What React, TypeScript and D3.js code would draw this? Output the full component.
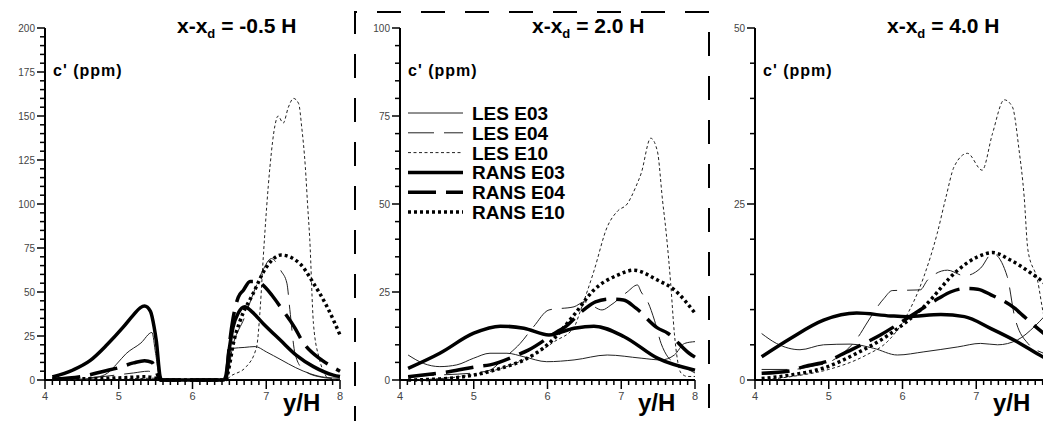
import React from 'react';
import * as d3 from 'd3';

// [y/H, c' (ppm)], one array per series and panel
const les03_a = [[4.1,0],[4.5,0.5],[4.7,1.5],[4.85,4],[4.97,9],[5.1,15],[5.3,21],[5.45,27],[5.5,15],[5.56,0],[6.45,0],[6.5,10],[6.55,18],[6.7,18.5],[6.85,19],[7.0,16],[7.2,11.5],[7.4,7],[7.6,3.5],[7.8,1.5],[8.0,1]];
const les04_a = [[4.1,0.5],[4.5,1],[4.8,2],[5.0,3],[5.2,4],[5.4,5],[5.5,3],[5.56,0],[6.45,0],[6.55,20],[6.7,35],[6.85,52],[6.95,62],[7.07,69],[7.2,62],[7.28,55],[7.32,40],[7.39,15],[7.5,6],[7.7,2],[8.0,0.5]];
const les10_a = [[4.1,0],[5.0,0.5],[5.5,1],[5.56,0],[6.45,0],[6.51,2],[6.73,7.6],[6.87,19],[6.92,42],[6.96,70],[7.05,121],[7.12,145],[7.16,150],[7.23,146],[7.3,155],[7.37,160],[7.44,157],[7.48,144],[7.53,121],[7.56,100],[7.59,80],[7.64,32],[7.72,12],[7.8,3],[7.85,0],[8.0,0]];
const rans03_a = [[4.1,1.7],[4.38,5.7],[4.61,11],[4.84,20],[5.06,30],[5.2,37],[5.29,41],[5.35,42],[5.43,39],[5.48,30],[5.51,22],[5.56,2],[5.58,0],[6.42,0],[6.45,2],[6.5,18],[6.55,30],[6.62,38],[6.71,41.6],[6.8,39],[6.96,32],[7.19,22.7],[7.41,14],[7.64,7.6],[7.91,2.8],[8.0,2]];
const rans04_a = [[4.1,0.5],[4.5,2],[4.8,5],[5.0,7],[5.2,9.7],[5.35,11],[5.45,10],[5.5,6],[5.56,0],[6.45,0],[6.5,20],[6.55,35],[6.62,47],[6.69,51],[6.78,56],[6.85,56],[6.92,55],[7.08,48],[7.19,41.6],[7.39,29.5],[7.48,22.7],[7.75,11.4],[7.89,7.6],[8.0,5]];
const rans10_a = [[4.1,0.5],[4.5,0.7],[5.0,1.2],[5.35,1.8],[5.5,1],[5.56,0],[6.45,0],[6.5,8],[6.55,20],[6.64,33],[6.82,49],[7.0,64],[7.2,71],[7.46,66],[7.64,55],[7.82,42],[8.0,25.6]];

const les03_b = [[4.11,7.1],[4.32,4.7],[4.54,3.8],[4.77,4.3],[5.0,6.2],[5.22,7.6],[5.45,7.6],[5.68,6.6],[5.99,5.2],[6.36,5.7],[6.81,7.1],[7.27,6.2],[7.54,5.7],[7.72,7.1],[7.86,10.4],[8.0,10.9]];
const les04_b = [[4.11,1],[4.6,1.5],[5.0,2],[5.22,2.8],[5.4,6],[5.63,10.4],[5.81,15.1],[6.02,19.9],[6.36,20.8],[6.5,22.2],[6.74,19.9],[6.86,21.3],[7.08,25],[7.22,27],[7.27,25],[7.36,22.2],[7.45,17],[7.54,10.4],[7.63,6.6],[7.72,5],[7.86,3.5],[8.0,2]];
const les10_b = [[4.11,0],[4.6,0.5],[5.0,1.5],[5.4,3.5],[5.8,7],[6.1,11],[6.36,15],[6.45,19.9],[6.63,31],[6.81,43.5],[6.95,48],[7.08,50],[7.2,55],[7.27,58.7],[7.4,68.7],[7.49,65],[7.56,51],[7.61,41.7],[7.67,27.5],[7.72,13.3],[7.81,2],[7.9,1],[8.0,1]];
const rans03_b = [[4.11,3.3],[4.54,7.6],[5.0,13.3],[5.36,15.3],[5.68,14.7],[6.02,12.8],[6.36,14.7],[6.63,15.3],[7.04,12.3],[7.49,6.2],[8.0,2.8]];
const rans04_b = [[4.11,0.9],[4.5,1.9],[4.68,2.4],[5.04,3.8],[5.22,4.3],[5.59,7.1],[5.74,8.5],[6.13,13.7],[6.22,14.8],[6.49,19.9],[6.65,22.2],[6.85,23],[7.03,22.7],[7.2,20.4],[7.49,14.8],[7.63,13.3],[7.92,7.6],[8.0,6.5]];
const rans10_b = [[4.11,0],[4.54,0.3],[5.0,1.4],[5.36,3.3],[5.68,5.7],[6.02,10.4],[6.36,18.5],[6.63,25.6],[6.95,29.8],[7.17,31.2],[7.49,28.4],[7.72,25.6],[8.0,19]];

const les03_c = [[4.09,6.6],[4.29,5.2],[4.61,4.3],[4.93,5.0],[5.29,5.1],[5.61,4.5],[5.93,3.55],[6.29,4.0],[6.75,4.7],[7.06,5.2],[7.29,5.0],[7.56,5.7],[7.79,7.6],[7.92,9],[8.0,10]];
const les04_c = [[4.09,1.5],[4.5,1.5],[4.8,2],[5.0,2.5],[5.13,3.3],[5.43,6.6],[5.5,7.8],[5.75,11.6],[5.86,12.7],[6.24,12.8],[6.34,14.2],[6.61,15.6],[6.84,14.8],[7.06,15.9],[7.22,18],[7.42,14.7],[7.52,9],[7.7,5.2],[7.95,3.6],[8.0,3.3]];
const les10_c = [[4.09,0],[4.5,0.5],[5.0,1.5],[5.5,3.5],[5.8,5.5],[6.02,8.5],[6.29,14.7],[6.47,20.8],[6.59,26],[6.7,30.3],[6.88,32.2],[7.08,29.8],[7.22,35],[7.38,39.8],[7.49,38.8],[7.58,32.7],[7.65,26],[7.7,18.5],[7.83,14.2],[7.92,9],[8.0,7]];
const rans03_c = [[4.09,3.3],[4.48,5.9],[4.93,8.5],[5.38,9.5],[5.84,9.1],[6.06,9.0],[6.52,9.3],[6.84,9.0],[7.2,7.3],[7.56,5.4],[7.9,3.3],[8.0,2.8]];
const rans04_c = [[4.09,0.95],[4.48,1.3],[4.66,1.9],[5.04,2.9],[5.16,3.55],[5.52,5.4],[5.7,6.4],[6.1,9],[6.49,11.6],[6.65,12.5],[6.85,13],[7.02,12.9],[7.2,12.1],[7.52,10.2],[7.65,9.0],[7.92,6.6],[8.0,6]];
const rans10_c = [[4.09,0.2],[4.48,0.7],[4.93,1.7],[5.38,3.8],[5.84,6.6],[6.29,10.4],[6.75,15.6],[7.02,17.5],[7.22,18.1],[7.47,17],[7.74,15.2],[7.92,13.8],[8.0,13]];

const seriesNames = ['LES E03', 'LES E04', 'LES E10', 'RANS E03', 'RANS E04', 'RANS E10'];
const stations = ['-0.5', '2.0', '4.0'];
const yMaxes = [200, 100, 50];
const xTicks = [4, 5, 6, 7, 8];

const styles = [
  { w: 1, dash: undefined, color: '#222' },
  { w: 1, dash: '26,10', color: '#222' },
  { w: 1, dash: '3,2.5', color: '#222' },
  { w: 3.5, dash: undefined, color: '#000' },
  { w: 3.5, dash: '28,10', color: '#000' },
  { w: 3.5, dash: '3,3', color: '#000' },
];

const panelData = [
  [les03_a, les04_a, les10_a, rans03_a, rans04_a, rans10_a],
  [les03_b, les04_b, les10_b, rans03_b, rans04_b, rans10_b],
  [les03_c, les04_c, les10_c, rans03_c, rans04_c, rans10_c],
];

const FONT = 'Liberation Sans, Arial, Helvetica, sans-serif';
const left = [45, 400, 755];
const plotW = 295;
const top = 28;
const bottom = 380;

function Panel({ i }: { i: number }) {
  const x = d3.scaleLinear().domain([4, 8]).range([left[i], left[i] + plotW]);
  const y = d3.scaleLinear().domain([0, yMaxes[i]]).range([bottom, top]);
  const line = d3.line<any>()
    .x((d) => x(d[0]))
    .y((d) => y(d[1]))
    .curve(d3.curveMonotoneX);

  const yMinor = d3.range(0, yMaxes[i] + 0.1, 5);
  const yMajor = d3.range(0, yMaxes[i] + 0.1, 25);
  const xMinor = d3.range(40, 81).map((v) => v / 10);
  // the 8 of the last panel falls off the page
  const xLabels = i === 2 ? xTicks.slice(0, 4) : xTicks;

  return (
    <g>
      {yMinor.map((v) => (
        <line key={'ym' + v} x1={left[i] - (v % 25 === 0 ? 8 : 5)} x2={left[i]} y1={y(v)} y2={y(v)} stroke="#000" strokeWidth={1.5} />
      ))}
      {xMinor.map((v, k) => (
        <line key={'xm' + k} x1={x(v)} x2={x(v)} y1={bottom} y2={bottom + (k % 10 === 0 ? 9 : 5)} stroke="#000" strokeWidth={1.5} />
      ))}
      <path d={`M${left[i]},${top}V${bottom}H${left[i] + plotW}`} fill="none" stroke="#000" strokeWidth={2} />
      {yMajor.map((v) => (
        <text key={'yl' + v} x={left[i] - 10} y={y(v) + 3.5} textAnchor="end" fontFamily={FONT} fontSize={10} fill="#444">{v}</text>
      ))}
      {xLabels.map((v) => (
        <text key={'xl' + v} x={x(v)} y={bottom + 20} textAnchor="middle" fontFamily={FONT} fontSize={11} fill="#444">{v}</text>
      ))}

      {panelData[i].map((s, k) => (
        <path key={k} d={line(s as any) || ''} fill="none" stroke={styles[k].color} strokeWidth={styles[k].w} strokeDasharray={styles[k].dash} />
      ))}

      <text x={left[i] + 132} y={33} fontFamily={FONT} fontWeight="bold" fontSize={21}>
        <tspan>x-x</tspan>
        <tspan dy={5} fontSize={13}>d</tspan>
        <tspan dy={-5}>{` = ${stations[i]} H`}</tspan>
      </text>
      <text x={left[i] + 8} y={76} fontFamily={FONT} fontWeight="bold" fontSize={16} letterSpacing={1}>c' (ppm)</text>
      <text x={left[i] + 238} y={411} fontFamily={FONT} fontWeight="bold" fontSize={24}>y/H</text>

      {i === 1 &&
        seriesNames.map((name, k) => {
          const ly = 113 + k * 19.8;
          return (
            <g key={name}>
              <line x1={408} x2={463} y1={ly} y2={ly} stroke={styles[k].color} strokeWidth={styles[k].w} strokeDasharray={styles[k].dash} />
              <text x={472} y={ly + 7} fontFamily={FONT} fontWeight="bold" fontSize={19}>{name}</text>
            </g>
          );
        })}
    </g>
  );
}

export default function App() {
  return (
    <svg width={1043} height={421} style={{ position: 'absolute', left: 0, top: 0, background: '#fff' }}>
      {[0, 1, 2].map((i) => (
        <Panel key={i} i={i} />
      ))}
      {/* dashed frame around the middle panel */}
      <path d="M355,430 L355,12 L709,12 L709,430" fill="none" stroke="#000" strokeWidth={2} strokeDasharray="24,20" />
    </svg>
  );
}
